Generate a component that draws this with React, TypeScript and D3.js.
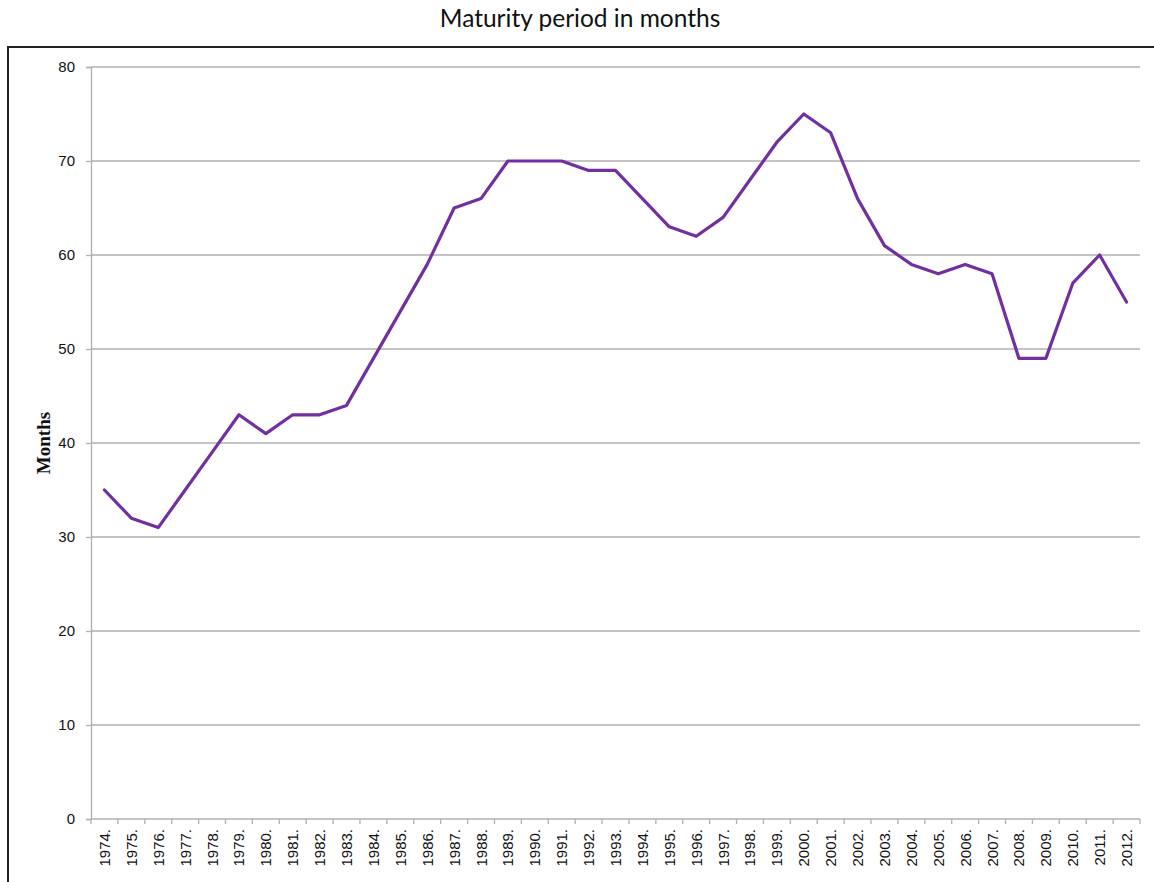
import { useEffect, useRef } from 'react';
import * as d3 from 'd3';

const YEARS = d3.range(1974, 2013).map(String);
const MONTHS = [
  35, 32, 31, 35, 39, 43, 41, 43, 43, 44,
  49, 54, 59, 65, 66, 70, 70, 70, 69, 69,
  66, 63, 62, 64, 68, 72, 75, 73, 66, 61,
  59, 58, 59, 58, 49, 49, 57, 60, 55,
];
const Y_TICKS = [0, 10, 20, 30, 40, 50, 60, 70, 80];
const TITLE = 'Maturity period in months';
const Y_LABEL = 'Months';

const W = 1154;
const H = 882;
const LINE = '#7030a0';
const GRID = '#b0b0b0';

export default function App() {
  const svgRef = useRef<SVGSVGElement | null>(null);

  useEffect(() => {
    const M = { top: 67, right: 14, bottom: 63, left: 91 };
    const svg = d3.select(svgRef.current);
    svg.selectAll('*').remove();

    const x = d3.scaleBand().domain(YEARS).range([M.left, W - M.right]);
    const y = d3.scaleLinear().domain([0, 80]).range([H - M.bottom, M.top]);

    // outer frame (runs off right and bottom)
    svg.append('rect')
      .attr('x', 8).attr('y', 47).attr('width', W + 20).attr('height', H + 20)
      .attr('fill', 'none').attr('stroke', '#222').attr('stroke-width', 2);

    svg.append('text')
      .attr('x', 580).attr('y', 27).attr('text-anchor', 'middle')
      .attr('font-family', 'Lato, "Open Sans", sans-serif').attr('font-size', 24.5).attr('fill', '#111')
      .text(TITLE);

    // grid
    svg.append('g').selectAll('line').data(Y_TICKS.filter(d => d > 0)).join('line')
      .attr('x1', M.left).attr('x2', W - M.right)
      .attr('y1', d => y(d)).attr('y2', d => y(d))
      .attr('stroke', GRID).attr('stroke-width', 1.3);

    // y axis
    const yAx = svg.append('g')
      .attr('transform', `translate(${M.left},0)`)
      .call(d3.axisLeft(y).tickValues(Y_TICKS).tickSize(5).tickPadding(11));
    yAx.select('.domain').attr('stroke', GRID).attr('stroke-width', 1.3);
    yAx.selectAll('.tick line').attr('stroke', GRID).attr('stroke-width', 1.3);
    yAx.selectAll('.tick text')
      .attr('font-family', '"Liberation Sans", Arial, sans-serif').attr('font-size', 15).attr('fill', '#111');

    // x axis
    const xAx = svg.append('g').attr('transform', `translate(0,${y(0)})`);
    xAx.append('line')
      .attr('x1', M.left).attr('x2', W - M.right)
      .attr('stroke', GRID).attr('stroke-width', 1.3);
    xAx.selectAll('line.tk').data(d3.range(YEARS.length + 1)).join('line')
      .attr('class', 'tk')
      .attr('x1', i => M.left + i * x.step()).attr('x2', i => M.left + i * x.step())
      .attr('y1', 0).attr('y2', 5)
      .attr('stroke', GRID).attr('stroke-width', 1.3);
    xAx.selectAll('text').data(YEARS).join('text')
      .attr('transform', d => `translate(${x(d)! + x.bandwidth() / 2 + 5.5},10) rotate(-90)`)
      .attr('text-anchor', 'end')
      .attr('font-family', '"Liberation Sans", Arial, sans-serif').attr('font-size', 15).attr('fill', '#111')
      .text(d => `${d}.`);

    svg.append('text')
      .attr('transform', `translate(50,${(y(0) + y(80)) / 2}) rotate(-90)`)
      .attr('text-anchor', 'middle')
      .attr('font-family', '"Liberation Serif", "Times New Roman", serif').attr('font-weight', 'bold')
      .attr('font-size', 19).attr('fill', '#111')
      .text(Y_LABEL);

    const line = d3.line<number>()
      .x((_, i) => x(YEARS[i])! + x.bandwidth() / 2)
      .y(d => y(d));

    svg.append('path')
      .datum(MONTHS)
      .attr('d', line)
      .attr('fill', 'none').attr('stroke', LINE).attr('stroke-width', 3.2)
      .attr('stroke-linejoin', 'round').attr('stroke-linecap', 'round');
  }, []);

  return (
    <svg ref={svgRef} width={W} height={H}
      style={{ position: 'absolute', left: 0, top: 0, background: '#fff', display: 'block' }} />
  );
}
